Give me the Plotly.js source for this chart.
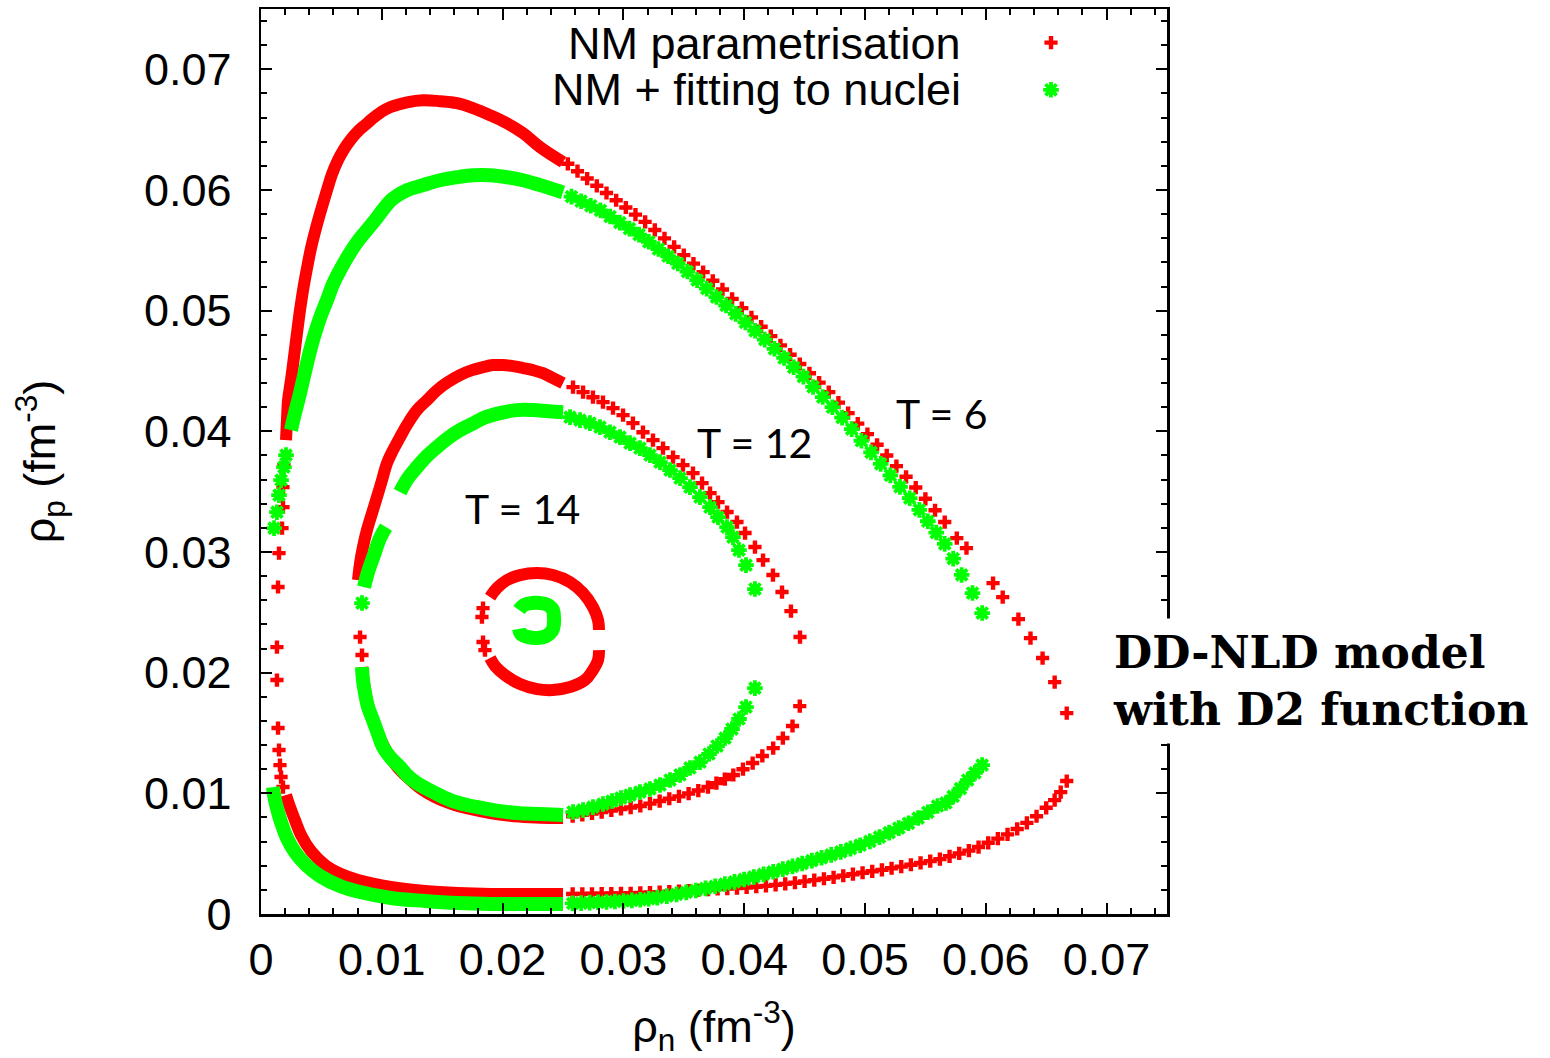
<!DOCTYPE html>
<html><head><meta charset="utf-8">
<script src="https://cdn.plot.ly/plotly-3.0.1.min.js"></script>
<style>html,body{margin:0;padding:0;background:#fff}#chart{width:1550px;height:1058px}</style>
</head><body><div id="chart"></div>
<script>
// ---------- NM parametrisation (red) ----------
// T = 6, dense upper band
const nmT6BandUpX = [0.00207,0.00215,0.00224,0.00248,0.00273,0.00298,0.00323,0.00348,0.00381,0.00414,0.00455,0.00497,0.00546,0.00588,0.00637,0.00687,0.00745,0.00803,0.00869,0.00927,0.00993,0.01068,0.01209,0.01341,0.01482,0.01623,0.01755,0.01896,0.02036,0.02169,0.0231,0.025];
const nmT6BandUpY = [0.03927,0.04093,0.04259,0.04424,0.04615,0.04814,0.05004,0.0517,0.05352,0.05518,0.05683,0.05833,0.05998,0.06131,0.06247,0.06338,0.06421,0.06487,0.06545,0.06595,0.06645,0.06686,0.06727,0.06744,0.06736,0.06719,0.06678,0.0662,0.06553,0.06471,0.06355,0.06231];
// T = 6, dense lower band
const nmT6BandLoX = [0.00207,0.0024,0.00281,0.00331,0.00414,0.0053,0.00662,0.00803,0.01076,0.01358,0.01631,0.01904,0.02185,0.025];
const nmT6BandLoY = [0.00986,0.00886,0.00779,0.00655,0.00522,0.00406,0.00331,0.00282,0.00224,0.00191,0.00174,0.00166,0.00166,0.00166];
// T = 6, separate points on the steep left side
const nmT6LeftX = [0.0019,0.00182,0.00182,0.00174,0.00149,0.00141,0.00132,0.00132,0.00141,0.00149,0.00157,0.00166,0.00182];
const nmT6LeftY = [0.0372,0.03538,0.03372,0.03198,0.02991,0.0271,0.02212,0.01939,0.01541,0.01359,0.01234,0.01135,0.01052];
// T = 6, upper right branch
const nmT6UpperX = [0.0254,0.0262,0.0270,0.0278,0.0286,0.0294,0.0302,0.0310,0.0318,0.0326,0.0334,0.0342,0.0350,0.0358,0.0366,0.0374,0.0382,0.0390,0.0398,0.0406,0.0414,0.0422,0.0430,0.0438,0.0446,0.0454,0.0462,0.0470,0.0478,0.0486,0.0494,0.0502,0.0510,0.0518,0.0526,0.0534,0.0542,0.0550,0.0558,0.0566,0.0576,0.0584,0.0606,0.0614,0.0627,0.0637,0.0647,0.0657,0.0667];
const nmT6UpperY = [0.06217,0.06156,0.06095,0.06035,0.05975,0.05915,0.05855,0.05796,0.05736,0.05669,0.05599,0.05529,0.0546,0.0539,0.05319,0.05248,0.05176,0.05098,0.05021,0.04944,0.04867,0.04789,0.04712,0.04635,0.04558,0.04481,0.04404,0.04325,0.04238,0.04151,0.04064,0.03977,0.03889,0.038,0.03712,0.03623,0.03534,0.03441,0.03346,0.03248,0.03115,0.03032,0.02742,0.02626,0.02444,0.02286,0.02121,0.01922,0.01665];
// T = 6, lower right branch
const nmT6LowerX = [0.0258,0.0266,0.0274,0.0282,0.0290,0.0298,0.0306,0.0314,0.0322,0.0330,0.0338,0.0346,0.0354,0.0362,0.0370,0.0378,0.0386,0.0394,0.0402,0.0410,0.0418,0.0426,0.0434,0.0442,0.0450,0.0458,0.0466,0.0474,0.0482,0.0490,0.0498,0.0506,0.0514,0.0522,0.0530,0.0538,0.0546,0.0554,0.0562,0.0570,0.0578,0.0586,0.0594,0.0602,0.0610,0.0618,0.0626,0.0634,0.0642,0.0650,0.0657,0.0662,0.0667];
const nmT6LowerY = [0.00166,0.00167,0.00168,0.00169,0.0017,0.00171,0.00172,0.00175,0.00178,0.00181,0.00185,0.00189,0.00193,0.00197,0.00202,0.00207,0.00211,0.00215,0.0022,0.00226,0.00233,0.00241,0.0025,0.00259,0.0027,0.00281,0.00292,0.00304,0.00317,0.0033,0.00342,0.00354,0.00366,0.00379,0.00393,0.00408,0.00423,0.00438,0.00455,0.00478,0.00502,0.00525,0.00555,0.0059,0.00625,0.0066,0.00705,0.00755,0.0081,0.0088,0.00944,0.0101,0.01102];

// T = 12
const nmT12BandUpX = [0.00803,0.0082,0.00844,0.00877,0.00919,0.0096,0.01002,0.01043,0.01093,0.01151,0.01217,0.01291,0.01374,0.01457,0.01548,0.01647,0.01747,0.01838,0.0192,0.02003,0.02086,0.02169,0.02252,0.02334,0.02417,0.025];
const nmT12BandUpY = [0.02767,0.02908,0.03041,0.03181,0.03322,0.03455,0.03596,0.03737,0.03844,0.03952,0.04068,0.04176,0.04258,0.04341,0.04408,0.04466,0.04507,0.04532,0.04549,0.04549,0.0454,0.04524,0.04507,0.04482,0.04441,0.04399];
const nmT12BandLoX = [0.00836,0.00853,0.00877,0.00911,0.0096,0.01026,0.01109,0.01209,0.01316,0.0144,0.01581,0.0173,0.01896,0.02061,0.02227,0.02392,0.025];
const nmT12BandLoY = [0.02046,0.01914,0.01773,0.01649,0.01516,0.01375,0.01243,0.01135,0.01044,0.00969,0.00911,0.0087,0.00837,0.00815,0.00802,0.00795,0.00795];
const nmT12LeftX = [0.0082,0.00836];
const nmT12LeftY = [0.02295,0.02146];
const nmT12UpperX = [0.02583,0.02666,0.02748,0.02831,0.02914,0.02997,0.03079,0.03162,0.03245,0.03328,0.03411,0.03493,0.03576,0.03651,0.03717,0.03783,0.03858,0.0394,0.04007,0.04089,0.04156,0.04238,0.04313,0.04387,0.04462];
const nmT12UpperY = [0.04366,0.04325,0.04283,0.04242,0.04192,0.04134,0.04068,0.03993,0.03927,0.03861,0.03786,0.0372,0.03654,0.03571,0.03488,0.03413,0.03331,0.03248,0.03157,0.03041,0.02933,0.02809,0.02668,0.0251,0.02295];
const nmT12LowerX = [0.0258,0.0266,0.0274,0.0282,0.0290,0.0298,0.0306,0.0314,0.0322,0.0330,0.0338,0.0346,0.0354,0.0362,0.0370,0.0377,0.0384,0.0391,0.0399,0.0407,0.0415,0.0424,0.0432,0.0440,0.0446];
const nmT12LowerY = [0.0081,0.00822,0.00833,0.00845,0.00858,0.0087,0.00882,0.00895,0.00915,0.00936,0.00955,0.00975,0.00998,0.01023,0.01052,0.01085,0.01118,0.01152,0.012,0.01251,0.0131,0.01375,0.01458,0.01558,0.01723];

// T = 14
const nmT14BandUpX = [0.01896,0.01954,0.02036,0.02144,0.02285,0.02417,0.02558,0.02666,0.02748,0.0279,0.02798];
const nmT14BandUpY = [0.02626,0.02701,0.02767,0.02809,0.02825,0.02809,0.02751,0.0266,0.02543,0.02436,0.02353];
const nmT14BandLoX = [0.02798,0.0279,0.02748,0.02682,0.02558,0.02417,0.02285,0.02144,0.0202,0.01938,0.01896];
const nmT14BandLoY = [0.02187,0.02104,0.02022,0.01939,0.01881,0.01856,0.01864,0.01906,0.0198,0.02055,0.02121];
const nmT14LeftX = [0.01838,0.01829,0.01838,0.01854];
const nmT14LeftY = [0.02535,0.02461,0.02254,0.02187];

// ---------- NM + fitting to nuclei (green) ----------
const fitT6BandUpX = [0.00248,0.00281,0.00315,0.00348,0.00381,0.00414,0.00455,0.00497,0.00546,0.00596,0.00654,0.0072,0.00795,0.00869,0.00944,0.01068,0.01134,0.01209,0.01341,0.01482,0.01623,0.01755,0.01896,0.02036,0.02169,0.0231,0.025];
const fitT6BandUpY = [0.0401,0.04151,0.04283,0.04424,0.04565,0.04698,0.04838,0.04963,0.05087,0.0522,0.05335,0.05452,0.05567,0.05659,0.0575,0.05907,0.05957,0.05998,0.0604,0.06081,0.06106,0.06122,0.06122,0.06106,0.06081,0.0604,0.0598];
const fitT6BandLoX = [0.00099,0.00116,0.00141,0.00174,0.00215,0.00281,0.00373,0.00488,0.00654,0.0082,0.01076,0.01358,0.01631,0.01904,0.02185,0.025];
const fitT6BandLoY = [0.01052,0.00944,0.00845,0.00737,0.0063,0.00514,0.00406,0.00315,0.00232,0.00182,0.00133,0.00108,0.00091,0.00083,0.00083,0.00083];
const fitT6LeftX = [0.00207,0.0019,0.00166,0.00149,0.00132,0.00108];
const fitT6LeftY = [0.03803,0.03703,0.03596,0.03471,0.0333,0.03198];
const fitT6UpperX = [0.0257,0.0265,0.0273,0.0281,0.0289,0.0297,0.0305,0.0313,0.0321,0.0329,0.0337,0.0345,0.0353,0.0361,0.0369,0.0377,0.0385,0.0393,0.0401,0.0409,0.0417,0.0425,0.0433,0.0441,0.0449,0.0457,0.0465,0.0473,0.0481,0.0489,0.0497,0.0505,0.0513,0.0521,0.0529,0.0537,0.0545,0.0552,0.0559,0.0566,0.0573,0.0580,0.0589,0.0597];
const fitT6UpperY = [0.05945,0.05907,0.05869,0.05831,0.0578,0.0573,0.0568,0.0563,0.05571,0.05511,0.05451,0.05391,0.05324,0.05253,0.05183,0.05113,0.05043,0.04973,0.04903,0.04833,0.0476,0.04684,0.04608,0.04531,0.04453,0.04368,0.04284,0.042,0.04114,0.04018,0.03922,0.03826,0.0373,0.03635,0.0354,0.03446,0.03349,0.03255,0.03161,0.03067,0.02945,0.0281,0.0266,0.02494];
const fitT6LowerX = [0.0258,0.0265,0.0272,0.0279,0.0286,0.0293,0.0300,0.0307,0.0314,0.0321,0.0328,0.0336,0.0344,0.0352,0.0360,0.0368,0.0376,0.0384,0.0392,0.0400,0.0408,0.0416,0.0424,0.0432,0.0440,0.0448,0.0456,0.0464,0.0472,0.0480,0.0488,0.0496,0.0504,0.0512,0.0520,0.0528,0.0536,0.0544,0.0552,0.0560,0.0567,0.0573,0.0579,0.0585,0.0591,0.0597];
const fitT6LowerY = [0.00088,0.0009,0.00094,0.00097,0.001,0.00104,0.00108,0.00113,0.00118,0.00126,0.00136,0.00148,0.00163,0.00179,0.00195,0.00212,0.0023,0.00248,0.00266,0.00286,0.00307,0.00328,0.0035,0.00372,0.00395,0.00418,0.00442,0.00466,0.0049,0.00515,0.00542,0.0057,0.00602,0.00637,0.00674,0.00712,0.00752,0.00795,0.00843,0.00895,0.0092,0.00975,0.0104,0.0111,0.0117,0.01234];

const fitT12BandLeftX = [0.01035,0.00985,0.00935,0.00886,0.00853];
const fitT12BandLeftY = [0.03206,0.03115,0.02974,0.02833,0.02709];
const fitT12BandUpX = [0.01151,0.01217,0.01291,0.01374,0.01457,0.01548,0.01647,0.01747,0.01838,0.01978,0.02119,0.02252,0.02376,0.025];
const fitT12BandUpY = [0.03496,0.03612,0.03703,0.03795,0.03869,0.03944,0.0401,0.0406,0.04109,0.04151,0.04176,0.04176,0.04167,0.04159];
const fitT12BandLoX = [0.00836,0.00844,0.00861,0.00886,0.00927,0.00969,0.0101,0.01076,0.01151,0.01217,0.01291,0.01424,0.01565,0.01705,0.01838,0.01978,0.02119,0.0231,0.025];
const fitT12BandLoY = [0.02046,0.01939,0.01831,0.01715,0.01607,0.01491,0.01384,0.01292,0.01218,0.01143,0.01085,0.01011,0.00944,0.00903,0.00878,0.00853,0.00837,0.00828,0.0082];
const fitT12LeftX = [0.00836];
const fitT12LeftY = [0.02577];
const fitT12UpperX = [0.02558,0.02641,0.02723,0.02806,0.02889,0.02972,0.03055,0.03137,0.0322,0.03303,0.03386,0.03469,0.03551,0.03634,0.03717,0.03783,0.03858,0.03907,0.03957,0.04015,0.04089];
const fitT12UpperY = [0.04118,0.04093,0.04068,0.04035,0.03993,0.03952,0.03902,0.03861,0.03803,0.03745,0.03679,0.03612,0.03538,0.03455,0.03372,0.03289,0.03206,0.03123,0.03016,0.02891,0.02693];
const fitT12LowerX = [0.02583,0.02666,0.02748,0.02831,0.02906,0.0298,0.03055,0.03137,0.0322,0.03303,0.03386,0.03469,0.03551,0.03634,0.03709,0.03775,0.03841,0.03899,0.03957,0.04015,0.04089];
const fitT12LowerY = [0.00845,0.00862,0.00886,0.00911,0.00936,0.00961,0.00986,0.01011,0.01036,0.01069,0.0111,0.01152,0.0121,0.01259,0.01326,0.01392,0.01458,0.01533,0.01616,0.01715,0.01872];

const fitT14BandX = [0.02136,0.02177,0.02243,0.0231,0.02376,0.02417,0.02425,0.02425,0.02409,0.02359,0.02285,0.0221,0.02152,0.02136];
const fitT14BandY = [0.02519,0.02561,0.02577,0.02577,0.02561,0.02519,0.02461,0.02403,0.02345,0.02303,0.02287,0.02295,0.02321,0.02362];

// ---------- labels ----------
const seriesNames = ['NM parametrisation', 'NM + fitting to nuclei'];
const tempLabels = ['T = 6', 'T = 12', 'T = 14'];
const tempLabelX = [0.05637, 0.04089, 0.02161];
const tempLabelY = [0.04151, 0.0391, 0.03364];
const modelText = 'DD-NLD model<br>with D2 function';
const xTitle = 'ρ<sub>n</sub> (fm<sup>-3</sup>)';
const yTitle = 'ρ<sub>p</sub> (fm<sup>-3</sup>)';

// ---------- build traces ----------
function joinSegs(segs){ const out=[]; segs.forEach((s,i)=>{ if(i) out.push(null); s.forEach(v=>out.push(v)); }); return out; }
const RED = '#ff0000', GREEN = '#00ff00';

const redBand = {
  x: joinSegs([nmT6BandUpX, nmT6BandLoX, nmT12BandUpX, nmT12BandLoX, nmT14BandUpX, nmT14BandLoX]),
  y: joinSegs([nmT6BandUpY, nmT6BandLoY, nmT12BandUpY, nmT12BandLoY, nmT14BandUpY, nmT14BandLoY]),
  mode:'lines', line:{color:RED, width:12, shape:'spline', smoothing:1.1},
  connectgaps:false, showlegend:false, hoverinfo:'skip', legendgroup:'nm'
};
const redPts = {
  x: [].concat(nmT6LeftX, nmT6UpperX, nmT6LowerX, nmT12LeftX, nmT12UpperX, nmT12LowerX, nmT14LeftX),
  y: [].concat(nmT6LeftY, nmT6UpperY, nmT6LowerY, nmT12LeftY, nmT12UpperY, nmT12LowerY, nmT14LeftY),
  mode:'markers', name:' ', legendgroup:'nm',
  marker:{symbol:'cross', size:11, color:RED, line:{width:0}}
};
const greenBand = {
  x: joinSegs([fitT6BandUpX, fitT6BandLoX, fitT12BandLeftX, fitT12BandUpX, fitT12BandLoX, fitT14BandX]),
  y: joinSegs([fitT6BandUpY, fitT6BandLoY, fitT12BandLeftY, fitT12BandUpY, fitT12BandLoY, fitT14BandY]),
  mode:'lines', line:{color:GREEN, width:14, shape:'spline', smoothing:1.1},
  connectgaps:false, showlegend:false, hoverinfo:'skip', legendgroup:'fit'
};
const greenPts = {
  x: [].concat(fitT6LeftX, fitT6UpperX, fitT6LowerX, fitT12LeftX, fitT12UpperX, fitT12LowerX),
  y: [].concat(fitT6LeftY, fitT6UpperY, fitT6LowerY, fitT12LeftY, fitT12UpperY, fitT12LowerY),
  mode:'markers', name:' ', legendgroup:'fit',
  marker:{symbol:'asterisk', size:13, color:GREEN, line:{color:GREEN, width:3.8}}
};

const axisCommon = {
  range:[0,0.075], tick0:0, dtick:0.01, ticks:'inside', ticklen:11, tickwidth:2, tickcolor:'#000',
  showline:true, linewidth:2.5, linecolor:'#000', mirror:'allticks', showgrid:false, zeroline:false,
  minor:{dtick:0.002, ticks:'inside', ticklen:6, tickwidth:2, tickcolor:'#000', showgrid:false},
  tickfont:{family:'Liberation Sans, Arial, sans-serif', size:45, color:'#000'},
  fixedrange:true
};

const annotations = [
  {xref:'paper', yref:'paper', x:0.775, y:0.9624, xanchor:'right', yanchor:'middle', showarrow:false,
   text:seriesNames[0], font:{family:'Liberation Sans, Arial, sans-serif', size:45, color:'#000'}},
  {xref:'paper', yref:'paper', x:0.775, y:0.9105, xanchor:'right', yanchor:'middle', showarrow:false,
   text:seriesNames[1], font:{family:'Liberation Sans, Arial, sans-serif', size:45, color:'#000'}},
  {xref:'paper', yref:'paper', x:0.9305, y:0.2575, xanchor:'left', yanchor:'middle', showarrow:false,
   text:modelText, align:'left', bgcolor:'#ffffff', borderpad:8,
   font:{family:'DejaVu Serif, serif', size:44, color:'#000', weight:'bold'}}
];
tempLabels.forEach((t,i)=>annotations.push({
  xref:'x', yref:'y', x:tempLabelX[i], y:tempLabelY[i], xanchor:'center', yanchor:'middle', showarrow:false,
  text:t, font:{family:'Lato, sans-serif', size:41, color:'#000'}
}));

const layout = {
  width:1550, height:1058,
  margin:{l:261, r:383, t:9, b:144},
  paper_bgcolor:'#ffffff', plot_bgcolor:'#ffffff',
  font:{family:'Liberation Sans, Arial, sans-serif', size:45, color:'#000'},
  xaxis:Object.assign({}, axisCommon, {ticklabelstandoff:4,
    title:{text:xTitle, standoff:38, font:{family:'Liberation Sans, Arial, sans-serif', size:45, color:'#000'}}}),
  yaxis:Object.assign({}, axisCommon, {ticklabelstandoff:18,
    title:{text:yTitle, standoff:74, font:{family:'Liberation Sans, Arial, sans-serif', size:45, color:'#000'}}}),
  showlegend:true,
  legend:{x:0.8499, y:0.9945, xanchor:'left', yanchor:'top', bgcolor:'rgba(0,0,0,0)', borderwidth:0,
    font:{size:34, color:'#000'}, tracegroupgap:0, traceorder:'normal'},
  annotations:annotations
};

Plotly.newPlot('chart', [redBand, redPts, greenBand, greenPts], layout, {displayModeBar:false, staticPlot:true});
</script></body></html>
